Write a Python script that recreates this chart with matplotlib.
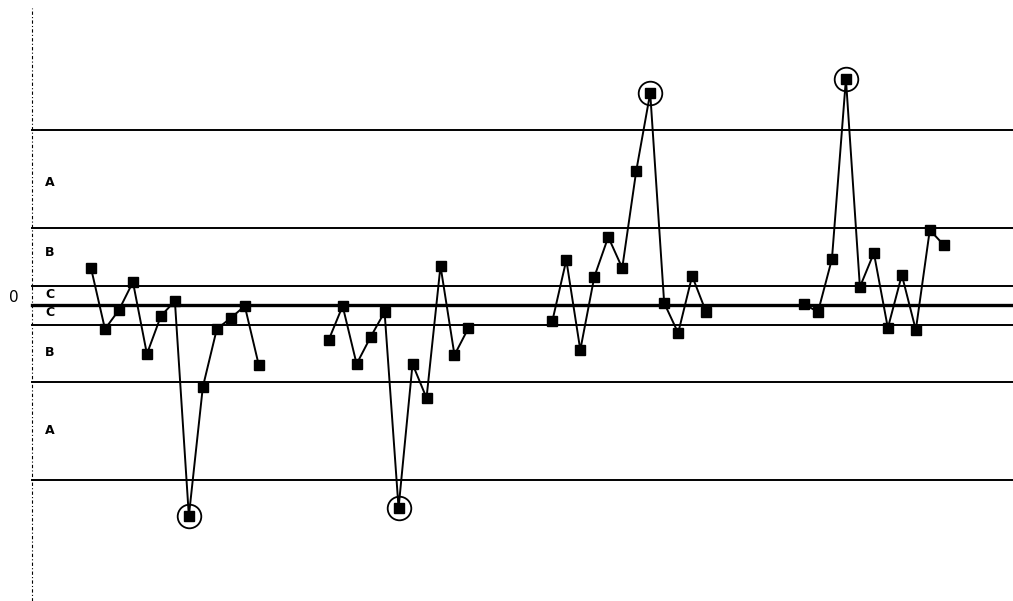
import matplotlib
matplotlib.use('Agg')
import matplotlib.pyplot as plt
import numpy as np

# ── Data (values relative to centre line) ────────────────────────────────────
g1_x = list(range(0, 13))
g1_y = [37, -24, -5, 23, -49, -11, 4, -211, -82, -24, -13, -1, -60]
g2_x = list(range(17, 28))
g2_y = [-35, -1, -59, -32, -7, -203, -59, -93, 39, -50, -23]
g3_x = list(range(33, 45))
g3_y = [-16, 45, -45, 28, 68, 37, 134, 212, 2, -28, 29, -7]
g4_x = list(range(51, 62))
g4_y = [1, -7, 46, 226, 18, 52, -23, 30, -25, 75, 60]

zone_lines = [175, 77, 19.5, -19.5, -77, -175]
centre = 0
zone_labels = ["A", "B", "C", "C", "B", "A"]
zone_label_y = [123, 52, 10, -8, -48, -125]
circled = [(7, -211), (22, -203), (40, 212), (54, 226)]

# ── Plot ─────────────────────────────────────────────────────────────────────
fig = plt.figure(figsize=(10.13, 6.01), dpi=100)
ax = fig.add_axes([0, 0, 1, 1])
ax.set_xlim(-91 / 13.98, (1013 - 91) / 13.98)
ax.set_ylim(-296, 305)
ax.axis('off')

x_axis = (32 - 91) / 13.98
for y in zone_lines:
    ax.plot([x_axis, 70], [y, y], color='black', lw=1.4)
ax.plot([x_axis, 70], [centre, centre], color='black', lw=2.4)
ax.plot([x_axis, x_axis], [-296, 297], color='black', lw=0.8, ls=(0, (3, 2, 1, 2)))

lab_x = (50 - 91) / 13.98
for lab, y in zip(zone_labels, zone_label_y):
    ax.text(lab_x, y, lab, fontsize=9, fontweight='bold', ha='center', va='center')
ax.text((14 - 91) / 13.98, centre + 7, "0", fontsize=11, ha='center', va='center')

for xs, ys in [(g1_x, g1_y), (g2_x, g2_y), (g3_x, g3_y), (g4_x, g4_y)]:
    ax.plot(xs, ys, color='black', lw=1.4, marker='s', ms=6.5, mfc='black', mec='black')

cx, cy = zip(*circled)
ax.plot(cx, cy, ls='none', marker='o', ms=17, mfc='none', mec='black', mew=1.3)

plt.savefig("out.png", dpi=100)
